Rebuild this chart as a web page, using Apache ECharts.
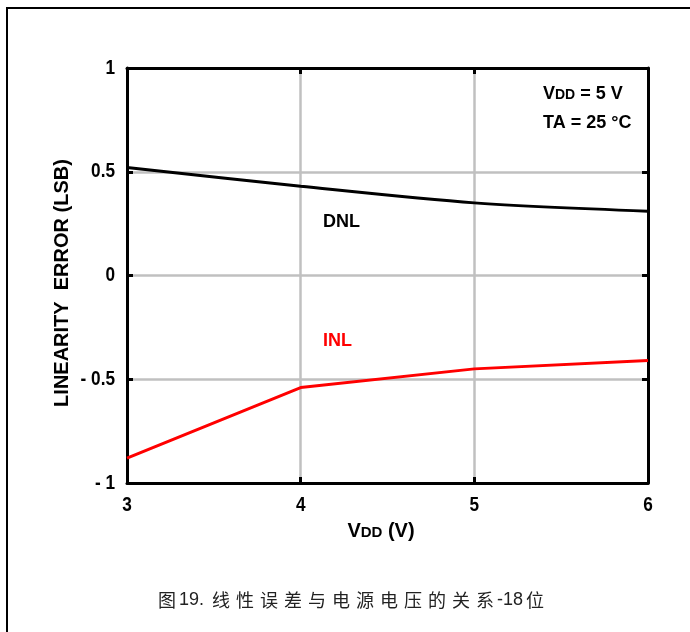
<!DOCTYPE html>
<html><head><meta charset="utf-8">
<script src="https://cdn.jsdelivr.net/npm/echarts@6/dist/echarts.min.js"></script>
<style>html,body{margin:0;padding:0;background:#fff}#c{width:690px;height:632px}</style>
</head><body><div id="c"></div>
<script>
const vdd = [3, 4, 5, 6];
const dnl = [0.52, 0.43, 0.35, 0.31];
const inl = [-0.88, -0.54, -0.45, -0.41];
const yTicks = [-1, -0.5, 0, 0.5, 1];
const xTicks = [3, 4, 5, 6];
const caption = '图19. 线性误差与电源电压的关系-18位';

const F = "'Liberation Sans',Arial,sans-serif";
const chart = echarts.init(document.getElementById('c'));
const yLabel = v => v < 0 ? '- ' + String(Math.abs(v)) : String(v);
const common = {
  axisLine: {show: true, onZero: false, lineStyle: {color: '#000', width: 3}},
  axisTick: {show: true, inside: true, length: 6, lineStyle: {color: '#000', width: 3}},
  axisLabel: {show: false}
};
chart.setOption({
  animation: false,
  grid: {left: 127, right: 42, top: 68, bottom: 149, containLabel: false},
  xAxis: [
    Object.assign({type: 'value', min: 3, max: 6, interval: 1, position: 'bottom',
      splitLine: {show: true, lineStyle: {color: '#c0c0c0', width: 2.5}}}, common),
    Object.assign({type: 'value', min: 3, max: 6, interval: 1, position: 'top',
      splitLine: {show: false}}, common)
  ],
  yAxis: [
    Object.assign({type: 'value', min: -1, max: 1, interval: 0.5, position: 'left',
      splitLine: {show: true, lineStyle: {color: '#c0c0c0', width: 2.5}}}, common),
    Object.assign({type: 'value', min: -1, max: 1, interval: 0.5, position: 'right',
      splitLine: {show: false}}, common)
  ],
  series: [
    {name: 'DNL', type: 'line', data: vdd.map((x, i) => [x, dnl[i]]), showSymbol: false,
      smooth: 0.3, lineStyle: {color: '#000', width: 3}, z: 5},
    {name: 'INL', type: 'line', data: vdd.map((x, i) => [x, inl[i]]), showSymbol: false,
      lineStyle: {color: '#ff0000', width: 3}, z: 5}
  ]
});

const g = [];
g.push({type: 'rect', shape: {x: 7, y: 8, width: 700, height: 640}, style: {fill: 'none', stroke: '#000', lineWidth: 2}, silent: true, z: -1});
yTicks.forEach(v => {
  const p = chart.convertToPixel({gridIndex: 0}, [3, v]);
  g.push({type: 'text', x: p[0] - 12, y: p[1], scaleX: 0.86,
    style: {text: yLabel(v), font: "bold 20px " + F, fill: '#000', align: 'right', verticalAlign: 'middle'}});
});
xTicks.forEach(v => {
  const p = chart.convertToPixel({gridIndex: 0}, [v, -1]);
  g.push({type: 'text', x: p[0], y: p[1] + 22, scaleX: 0.86,
    style: {text: String(v), font: "bold 20px " + F, fill: '#000', align: 'center', verticalAlign: 'middle'}});
});
g.push({type: 'text', x: 62, y: 283, rotation: Math.PI / 2,
  style: {text: 'LINEARITY  ERROR (LSB)', font: "bold 20px " + F, fill: '#000', align: 'center', verticalAlign: 'middle'}});
g.push({type: 'text', x: 381, y: 531,
  style: {text: '{a|V}{b|DD}{a| (V)}', align: 'center', verticalAlign: 'middle',
    rich: {a: {font: "bold 20px " + F, fill: '#000'}, b: {font: "bold 15px " + F, fill: '#000', padding: [4, 0, 0, 0]}}}});
g.push({type: 'text', x: 543, y: 94,
  style: {text: '{a|V}{b|DD}{a| = 5 V}', align: 'left', verticalAlign: 'middle',
    rich: {a: {font: "bold 18px " + F, fill: '#000'}, b: {font: "bold 14px " + F, fill: '#000', padding: [3, 0, 0, 0]}}}});
g.push({type: 'text', x: 543, y: 123,
  style: {text: 'TA = 25 °C', font: "bold 18px " + F, fill: '#000', align: 'left', verticalAlign: 'middle'}});
g.push({type: 'text', x: 323, y: 222,
  style: {text: 'DNL', font: "bold 18px " + F, fill: '#000', align: 'left', verticalAlign: 'middle'}});
g.push({type: 'text', x: 323, y: 341,
  style: {text: 'INL', font: "bold 18px " + F, fill: '#ff0000', align: 'left', verticalAlign: 'middle'}});
const capTokens = caption.match(/[\u4e00-\u9fff]|[^\u4e00-\u9fff]+/g)
  .map(t => /[\u4e00-\u9fff]/.test(t) ? '{c|' + t + '}' : '{d|' + t + '}').join('');
g.push({type: 'text', x: 351, y: 600,
  style: {text: capTokens, align: 'center', verticalAlign: 'middle',
    rich: {c: {font: "18px 'Noto Sans CJK SC', sans-serif", fill: '#222', padding: [0, 3, 0, 3]},
           d: {font: "18px 'Liberation Sans', sans-serif", fill: '#222'}}}});
chart.setOption({graphic: g});
</script></body></html>
